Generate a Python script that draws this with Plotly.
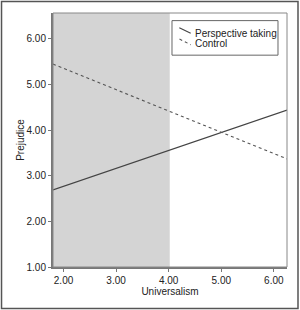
import plotly.graph_objects as go

x_ends = [1.8, 6.25]
perspective = [2.69, 4.44]
control = [5.45, 3.37]
x_ticks = [2.0, 3.0, 4.0, 5.0, 6.0]
y_ticks = [1.0, 2.0, 3.0, 4.0, 5.0, 6.0]
shade_end = 4.02
legend_names = ["Perspective taking", "Control"]

line_styles = [dict(color="#444444", width=1.1), dict(color="#555555", width=1.1, dash="dot")]

fig = go.Figure()
fig.add_trace(go.Scatter(x=x_ends, y=perspective, mode="lines", name=legend_names[0],
                         line=line_styles[0], showlegend=False))
fig.add_trace(go.Scatter(x=x_ends, y=control, mode="lines", name=legend_names[1],
                         line=line_styles[1], showlegend=False))

fig.add_shape(type="rect", xref="x", yref="y", x0=1.8, x1=shade_end, y0=1.0, y1=6.57,
              fillcolor="#d4d4d4", line=dict(width=0), layer="below")
# plot border
fig.add_shape(type="rect", xref="paper", yref="paper", x0=0, x1=1, y0=0, y1=1,
              line=dict(color="#888888", width=1), layer="above")
# outer frame
fig.add_shape(type="rect", xref="paper", yref="paper", x0=-0.220, x1=1.047, y0=-0.163, y1=1.045,
              line=dict(color="#555555", width=1.5))

# legend box (drawn like the original: short diagonal key lines)
fig.add_shape(type="rect", xref="paper", yref="paper", x0=0.5085, x1=0.9615, y0=0.834, y1=0.970,
              line=dict(color="#666666", width=1), fillcolor="white", layer="above")
key_pos = [(0.5397, 0.5885, 0.9421, 0.9200), (0.5406, 0.5885, 0.8975, 0.8750)]
text_y = [0.9200, 0.8780]
for name, style, (kx0, kx1, ky0, ky1), ty in zip(legend_names, line_styles, key_pos, text_y):
    fig.add_shape(type="line", xref="paper", yref="paper", x0=kx0, x1=kx1, y0=ky0, y1=ky1,
                  line=style, layer="above")
    fig.add_annotation(xref="paper", yref="paper", x=0.5983, y=ty, text=name, showarrow=False,
                       xanchor="left", yanchor="middle", font=dict(size=10, color="#222222"))

font = "Liberation Sans, Arial, sans-serif"
fig.update_layout(
    width=300, height=310,
    margin=dict(l=53, r=13, t=13, b=43, autoexpand=False),
    paper_bgcolor="white", plot_bgcolor="white",
    font=dict(family=font, size=10, color="#222222"),
    showlegend=False,
    xaxis=dict(range=[1.8, 6.25], tickvals=x_ticks, ticktext=[f"{v:.2f}" for v in x_ticks],
               showgrid=False, zeroline=False, showline=True, linecolor="#777777", linewidth=2,
               ticks="outside", ticklen=3, tickcolor="#777777", automargin=False,
               title=dict(text="Universalism", font=dict(size=10), standoff=2)),
    yaxis=dict(range=[1.0, 6.57], tickvals=y_ticks, ticktext=[f"{v:.2f}" for v in y_ticks],
               showgrid=False, zeroline=False, showline=True, linecolor="#777777", linewidth=2,
               ticks="outside", ticklen=3, tickcolor="#777777", automargin=False,
               title=dict(text="Prejudice", font=dict(size=10), standoff=0)),
)
fig.write_html("out.html")
